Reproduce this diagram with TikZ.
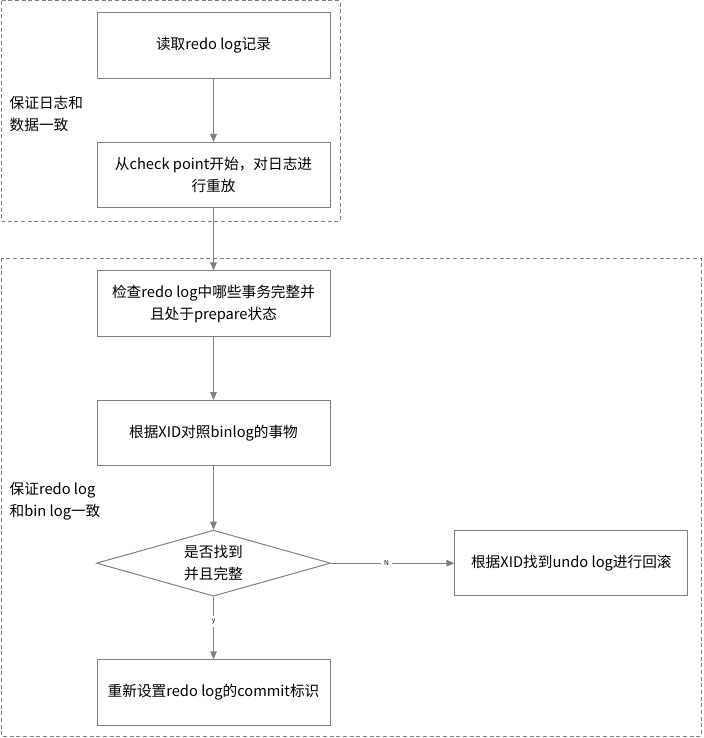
\documentclass[tikz,border=0pt]{standalone}
\usepackage{fontspec}
\setmainfont{Noto Sans CJK SC}
\usepackage{xcolor}
\usetikzlibrary{positioning, shapes.geometric, arrows.meta}

\begin{document}
\begin{tikzpicture}[x=0.75pt, y=-0.75pt, font=\fontsize{11}{16.5}\selectfont,
  stepbox/.style={rectangle, draw=gray, line width=0.75pt, minimum width=174.75pt, minimum height=49pt, inner sep=3pt, align=center},
  checkbox/.style={diamond, draw=gray, line width=0.75pt, minimum width=175.5pt, minimum height=49.5pt, aspect=3.55, inner sep=0pt, align=center},
  flow/.style={draw=gray, line width=0.75pt, -{Triangle[length=6pt, width=5pt]}},
  frame/.style={draw=gray, line width=0.75pt, dash pattern=on 3pt off 2pt},
  side/.style={anchor=west, align=left},
  yesno/.style={font=\tiny, fill=white, inner sep=2pt}]
%
\useasboundingbox (0,0) rectangle (703,738);

%help grid
%\draw[help lines, step=50] (0,0) grid (703,738);

%%% frames
\draw [frame] (1,1) rectangle (340,221);
\draw [frame] (1,258) rectangle (701,736);

\node [side] (label-log) at (5,114) {保证日志和\\数据一致};
\node [side] (label-binlog) at (5,501) {保证redo log\\和bin log一致};

%%% nodes and boxes
\node [stepbox] (read) at (213.5,45.5) {读取redo log记录};
\node [stepbox, below = 47.5pt of read] (replay) {从check point开始，对日志进\\行重放};
\node [stepbox, below = 46.5pt of replay] (check) {检查redo log中哪些事务完整并\\且处于prepare状态};
\node [stepbox, below = 47.5pt of check] (compare) {根据XID对照binlog的事物};
\node [checkbox, below = 47.5pt of compare] (found) {是否找到\\并且完整};
\node [stepbox, right = 92.5pt of found] (rollback) {根据XID找到undo log进行回滚};
\node [stepbox, below = 47pt of found] (commit) {重新设置redo log的commit标识};

%%% connections, arrows
\draw [flow] (read) -- (replay);
\draw [flow] (replay) -- (check);
\draw [flow] (check) -- (compare);
\draw [flow] (compare) -- (found);
\draw [flow] (found) -- node [yesno, pos=0.45] {N} (rollback);
\draw [flow] (found) -- node [yesno, pos=0.4] {y} (commit);

\end{tikzpicture}
\end{document}
